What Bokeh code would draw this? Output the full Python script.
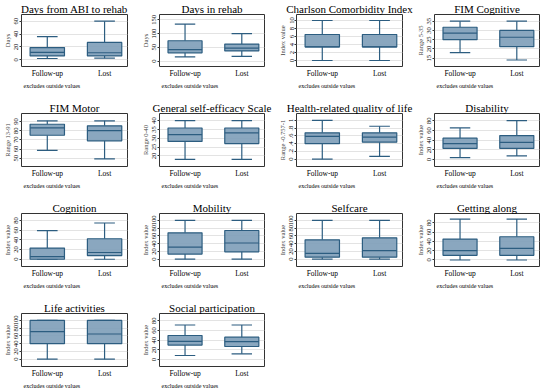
from bokeh.plotting import figure
from bokeh.layouts import gridplot
from bokeh.models import Range1d, FixedTicker, Title, ColumnDataSource
from bokeh.embed import file_html
from bokeh.resources import INLINE

categories = ["Follow-up", "Lost"]
note = "excludes outside values"

titles = ["Days from ABI to rehab", "Days in rehab", "Charlson Comorbidity Index", "FIM Cognitive",
          "FIM Motor", "General self-efficacy Scale", "Health-related quality of life", "Disability",
          "Cognition", "Mobility", "Selfcare", "Getting along",
          "Life activities", "Social participation"]
ylabels = ["Days", "Days", "Index value", "Range 5-35",
           "Range 13-91", "Range 0-40", "Range -0.757-1", "Index value",
           "Index value", "Index value", "Index value", "Index value",
           "Index value", "Index value"]
yticks = [[0, 20, 40, 60], [0, 50, 100, 150], [0, 2, 4, 6, 8, 10], [15, 20, 25, 30, 35],
          [50, 60, 70, 80, 90], [20, 25, 30, 35, 40], [0, 0.2, 0.4, 0.6, 0.8, 1], [0, 20, 40, 60, 80],
          [0, 20, 40, 60, 80], [0, 20, 40, 60, 80, 100], [0, 20, 40, 60, 80, 100], [0, 20, 40, 60, 80],
          [0, 20, 40, 60, 80, 100], [0, 20, 40, 60, 80]]
ytick_labels = [["0", "20", "40", "60"], ["0", "50", "100", "150"], ["0", "2", "4", "6", "8", "10"],
                ["15", "20", "25", "30", "35"], ["50", "60", "70", "80", "90"], ["20", "25", "30", "35", "40"],
                ["0", ".2", ".4", ".6", ".8", "1"], ["0", "20", "40", "60", "80"], ["0", "20", "40", "60", "80"],
                ["0", "20", "40", "60", "80", "100"], ["0", "20", "40", "60", "80", "100"],
                ["0", "20", "40", "60", "80"], ["0", "20", "40", "60", "80", "100"], ["0", "20", "40", "60", "80"]]
# box statistics: [lower whisker, Q1, median, Q3, upper whisker]
followup_stats = [[2, 6, 11.5, 19, 36], [15, 30, 42, 74, 135], [0, 3.4, 3.4, 6.5, 10], [18, 25, 28.5, 31.7, 35],
                  [58.5, 75, 83, 87, 90.7], [18, 28.2, 32, 35.8, 40], [0.0, 0.40, 0.59, 0.68, 1.0], [4, 23, 33, 44, 65],
                  [0, 0, 5.6, 23, 59], [0, 13, 31, 68, 100], [0, 5, 15, 50, 100], [0, 10, 20, 45, 88],
                  [0, 40, 71, 100, 100], [8.5, 30, 37.5, 49.5, 71]]
lost_stats = [[2.6, 6, 11, 27, 60], [17, 37, 47, 62, 100], [0, 3.4, 3.4, 6.5, 10], [14, 21.2, 26.3, 30, 35],
              [49.3, 69, 80, 85.3, 90.7], [18, 27, 33, 35.8, 40], [0.07, 0.44, 0.57, 0.68, 0.85], [7.6, 23, 35.4, 49.3, 80],
              [0, 7.6, 14, 42.4, 75], [0, 19, 41.7, 74, 100], [0, 5, 22, 55, 100], [0, 10, 25, 50, 88],
              [0, 40, 65, 100, 100], [12, 27, 37, 46, 71]]
yranges = [(-10.4, 70.4), (-20, 170), (-1.5, 11.5), (10.5, 38.6),
           (41, 98.7), (14, 44), (-0.19, 1.18), (-14, 94.6),
           (-15, 94.6), (-19, 118), (-19, 118), (-14, 100),
           (-19, 118), (-14, 94.6)]

FONT = "Liberation Serif"
FILL = "#7d9db8"
LINE = "#2c5d80"
BOXW = 0.6
CAPW = 0.36

col_widths = [138, 137, 138, 137]
row_heights = [99, 100, 100, 89]
row_bottoms = [33, 33, 33, 22]


def make_panel(i, width, height, bottom):
    p = figure(width=width, height=height, output_backend="svg", toolbar_location=None,
               x_range=Range1d(-0.45, 1.4), y_range=Range1d(*yranges[i]),
               min_border_left=21, min_border_right=11, min_border_top=14, min_border_bottom=bottom,
               background_fill_color="white", border_fill_color="white")
    p.title.text = titles[i]
    p.title.align = "center"
    p.title.text_font = FONT
    p.title.text_font_size = "11px"
    p.title.text_font_style = "normal"
    p.title.text_color = "black"
    p.title.standoff = 0
    p.title.offset = 0
    p.outline_line_color = "#333333"
    p.outline_line_width = 1

    xa = p.xaxis[0]
    xa.ticker = FixedTicker(ticks=[0, 1])
    xa.major_label_overrides = {0: categories[0], 1: categories[1]}
    xa.major_tick_line_color = None
    xa.major_tick_out = 0
    xa.major_tick_in = 0
    xa.minor_tick_line_color = None
    xa.minor_tick_out = 0
    xa.axis_line_color = None
    xa.major_label_standoff = 2
    xa.major_label_text_font = FONT
    xa.major_label_text_font_size = "7.5px"
    xa.major_label_text_color = "black"

    ya = p.yaxis[0]
    ya.ticker = FixedTicker(ticks=yticks[i])
    ya.major_label_overrides = {t: l for t, l in zip(yticks[i], ytick_labels[i])}
    ya.major_label_orientation = "vertical"
    ya.axis_label = ylabels[i]
    ya.axis_label_text_font = FONT
    ya.axis_label_text_font_size = "6.5px"
    ya.axis_label_text_font_style = "normal"
    ya.axis_label_standoff = 1
    ya.major_label_text_font = FONT
    ya.major_label_text_font_size = "6.5px"
    ya.major_label_text_color = "black"
    ya.major_label_standoff = 1
    ya.axis_line_color = None
    ya.major_tick_out = 2
    ya.major_tick_in = 0
    ya.minor_tick_out = 0
    ya.major_tick_line_color = "#333333"
    ya.minor_tick_line_color = None

    p.xgrid.visible = False
    p.ygrid.ticker = FixedTicker(ticks=yticks[i])
    p.ygrid.grid_line_color = "#e3e3e3"
    p.ygrid.grid_line_width = 1

    p.add_layout(Title(text=note, align="left", text_font=FONT, text_font_size="6px",
                       text_font_style="normal", text_color="black", standoff=0, offset=2), "below")

    stats = [followup_stats[i], lost_stats[i]]
    xs = [0, 1]
    src = ColumnDataSource(dict(
        x=xs,
        lo=[s[0] for s in stats], q1=[s[1] for s in stats], med=[s[2] for s in stats],
        q3=[s[3] for s in stats], hi=[s[4] for s in stats],
        bl=[x - BOXW / 2 for x in xs], br=[x + BOXW / 2 for x in xs],
        cl=[x - CAPW / 2 for x in xs], cr=[x + CAPW / 2 for x in xs],
    ))
    p.segment(x0="x", x1="x", y0="q3", y1="hi", line_color=LINE, line_width=1.2, source=src)
    p.segment(x0="x", x1="x", y0="lo", y1="q1", line_color=LINE, line_width=1.2, source=src)
    p.segment(x0="cl", x1="cr", y0="hi", y1="hi", line_color=LINE, line_width=1.2, source=src)
    p.segment(x0="cl", x1="cr", y0="lo", y1="lo", line_color=LINE, line_width=1.2, source=src)
    p.vbar(x="x", width=BOXW, bottom="q1", top="q3", fill_color=FILL, fill_alpha=0.9,
           line_color=LINE, line_width=1.2, source=src)
    p.segment(x0="bl", x1="br", y0="med", y1="med", line_color=LINE, line_width=1.2, source=src)
    return p


rows = []
k = 0
for r in range(4):
    row = []
    for c in range(4):
        if k < len(titles):
            row.append(make_panel(k, col_widths[c], row_heights[r], row_bottoms[r]))
        else:
            row.append(None)
        k += 1
    rows.append(row)

grid = gridplot(rows, toolbar_location=None)
open("out.html", "w").write(file_html(grid, INLINE))
